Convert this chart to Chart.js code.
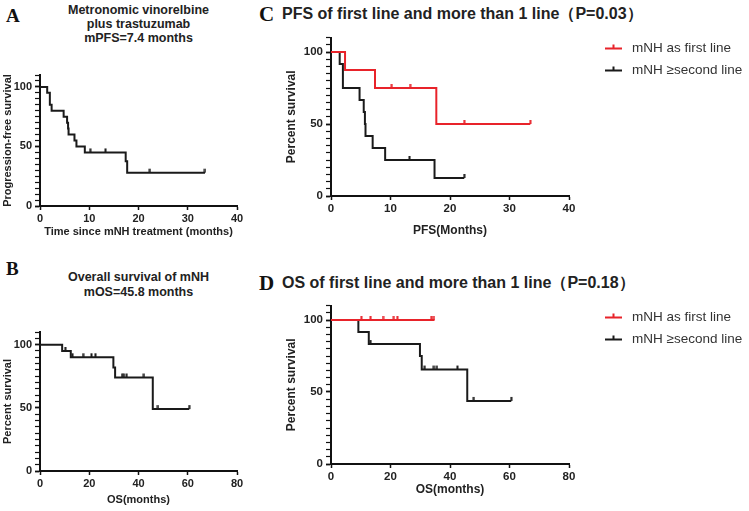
<!DOCTYPE html>
<html>
<head>
<meta charset="utf-8">
<script src="https://cdn.jsdelivr.net/npm/chart.js@4"></script>
<style>
body{margin:0;background:#fff;width:749px;height:511px;position:relative;overflow:hidden;font-family:"Liberation Sans",Arial,sans-serif;}
canvas{position:absolute;}
.letter{position:absolute;font-family:"Liberation Serif","Times New Roman",serif;font-weight:bold;color:#111;line-height:1;}
.ttl{position:absolute;font-weight:bold;color:#222;white-space:nowrap;}
</style>
</head>
<body>

<div class="letter" style="left:6px;top:6px;font-size:19px;">A</div>
<div class="ttl" style="left:40px;width:197px;top:3px;text-align:center;font-size:12.5px;line-height:14px;">Metronomic vinorelbine<br>plus trastuzumab<br>mPFS=7.4 months</div>
<canvas id="chart_a" width="247" height="186" style="left:0px;top:60px;"></canvas>

<div class="letter" style="left:6px;top:259px;font-size:19px;">B</div>
<div class="ttl" style="left:40px;width:197px;top:270px;text-align:center;font-size:12.5px;line-height:15px;">Overall survival of mNH<br>mOS=45.8 months</div>
<canvas id="chart_b" width="247" height="199" style="left:0px;top:312px;"></canvas>

<div class="letter" style="left:259px;top:4px;font-size:21px;">C</div>
<div class="ttl" style="left:282px;top:5px;font-size:16px;line-height:17px;">PFS of first line and more than 1 line（P=0.03）</div>
<canvas id="chart_c" width="469" height="228" style="left:280px;top:20px;"></canvas>

<div class="letter" style="left:259px;top:273px;font-size:21px;">D</div>
<div class="ttl" style="left:282px;top:274px;font-size:16px;line-height:17px;">OS of first line and more than 1 line（P=0.18）</div>
<canvas id="chart_d" width="469" height="221" style="left:280px;top:290px;"></canvas>

<script>
// ---- A : PFS, all patients
var pfs_all_time      = [0, 1.46, 2.0, 2.36, 4.8, 5.5, 5.7, 5.8, 7.0, 7.4, 9.1, 17.4, 17.7, 33.5];
var pfs_all_surv      = [100, 95, 85, 80, 75, 70, 65, 60, 55, 50, 45, 37.5, 28, 28];
var pfs_all_cens_time = [10.2, 13.3, 22.3, 33.5];
var pfs_all_cens_surv = [45, 45, 28, 28];

// ---- B : OS, all patients
var os_all_time       = [0, 9.0, 12.5, 29.8, 30.5, 45.8, 60.6];
var os_all_surv       = [100, 95, 90, 82, 74, 49, 49];
var os_all_cens_time  = [10.3, 13.2, 17.5, 20.9, 22.5, 33.3, 34.1, 35.2, 42.2, 47.9, 60.6];
var os_all_cens_surv  = [95, 90, 90, 90, 90, 74, 74, 74, 74, 49, 49];

// ---- C : PFS by line
var pfs_first_time      = [0, 2.36, 7.4, 17.7, 33.5];
var pfs_first_surv      = [100, 87.5, 75, 50, 50];
var pfs_first_cens_time = [10.2, 13.3, 22.4, 33.5];
var pfs_first_cens_surv = [75, 75, 50, 50];

var pfs_second_time      = [0, 1.46, 2.0, 4.8, 5.5, 5.7, 5.8, 7.0, 9.1, 17.4, 22.4];
var pfs_second_surv      = [100, 91.7, 75, 66.7, 58.3, 50, 41.7, 33.3, 25, 12.5, 12.5];
var pfs_second_cens_time = [13.2, 22.4];
var pfs_second_cens_surv = [25, 12.5];

// ---- D : OS by line
var os_first_time      = [0, 34.8];
var os_first_surv      = [100, 100];
var os_first_cens_time = [10.2, 13.3, 17.5, 21.1, 22.3, 33.7, 34.6];
var os_first_cens_surv = [100, 100, 100, 100, 100, 100, 100];

var os_second_time      = [0, 9.2, 12.7, 29.9, 30.5, 45.8, 60.6];
var os_second_surv      = [100, 91.7, 83.3, 75, 65.6, 43.8, 43.8];
var os_second_cens_time = [13.3, 31.5, 34.6, 35.6, 42.5, 48.0, 60.6];
var os_second_cens_surv = [83.3, 65.6, 65.6, 65.6, 65.6, 43.8, 43.8];

var label_first  = "mNH as first line";
var label_second = "mNH \u2265second line";

// y軸: 0-110, 5刻みの目盛り、ラベルは50刻み
var y_max        = 110;
var y_minor_step = 5;
var y_label_step = 50;

var RED   = "#e8232a";
var BLACK = "#1a1a1a";
var FONT  = "'Liberation Sans', Arial, sans-serif";

function to_points(xs, ys){
    let pts = [];
    for (let i=0;i<xs.length;i++){
        pts.push({x: xs[i], y: ys[i]});
    }
    return pts;
}

//打ち切りの印（線の上に短い縦線）
function tick_image(color){
    let c = document.createElement("canvas");
    c.width  = 3;
    c.height = 10;
    let g = c.getContext("2d");
    g.fillStyle = color;
    g.fillRect(0.5, 1, 2, 4);
    return c;
}

//右側の凡例
var side_legend = {
    id: "side_legend",
    afterDraw: function(chart, args, o){
        if (!o || !o.show) return;
        let ctx  = chart.ctx;
        let area = chart.chartArea;
        let rows = chart.data.datasets.filter(function(d){ return !d.isCensor; });
        ctx.save();
        rows.forEach(function(d, i){
            let y = Math.round(area.top + o.top + i * o.gap) + 0.5;
            let x = area.right + o.left;
            ctx.strokeStyle = d.borderColor;
            ctx.lineWidth   = 2;
            ctx.beginPath();
            ctx.moveTo(x, y);
            ctx.lineTo(x + 17, y);
            ctx.moveTo(x + 8.5, y);
            ctx.lineTo(x + 8.5, y - 4);
            ctx.stroke();
            ctx.fillStyle    = "#333";
            ctx.font         = "13.5px " + FONT;
            ctx.textBaseline = "middle";
            ctx.fillText(d.label, x + 27, y);
        });
        ctx.restore();
    }
};

function km_chart(id, series, opt){

    let datasets = [];
    series.forEach(function(s){
        datasets.push({
            label: s.label,
            data: to_points(s.time, s.surv),
            borderColor: s.color,
            borderWidth: 2,
            stepped: true,
            pointRadius: 0,
            fill: false
        });
        datasets.push({
            label: "",
            isCensor: true,
            data: to_points(s.cens_time, s.cens_surv),
            showLine: false,
            pointStyle: tick_image(s.color),
            pointRadius: 5,
            borderColor: s.color
        });
    });

    let tick_font  = {family: FONT, size: opt.fs, weight: "bold"};
    let title_font = {family: FONT, size: opt.tfs, weight: "bold"};

    return new Chart(document.getElementById(id), {
        type: "line",
        data: {datasets: datasets},
        options: {
            responsive: false,
            animation: false,
            devicePixelRatio: 1,
            layout: {padding: opt.pad},
            plugins: {
                legend: {display: false},
                tooltip: {enabled: false},
                side_legend: opt.legend
            },
            scales: {
                x: {
                    type: "linear",
                    min: 0,
                    max: opt.xmax,
                    afterBuildTicks: function(sc){
                        let t = [];
                        for (let v = 0; v <= opt.xmax; v += opt.xstep) t.push({value: v});
                        sc.ticks = t;
                    },
                    afterFit: function(sc){ sc.height = opt.xh; },
                    border: {display: true, color: "#111", width: 2},
                    grid: {display: true, drawOnChartArea: false, drawTicks: true, tickLength: 4, tickColor: "#111", tickWidth: 1.5},
                    ticks: {color: "#222", font: tick_font, padding: 2, maxRotation: 0},
                    title: {display: true, text: opt.xtitle, color: "#222", font: title_font, padding: {top: 0, bottom: opt.xtp}}
                },
                y: {
                    min: 0,
                    max: y_max,
                    afterBuildTicks: function(sc){
                        let t = [];
                        for (let v = 0; v <= y_max; v += y_minor_step) t.push({value: v});
                        sc.ticks = t;
                    },
                    afterFit: function(sc){ sc.width = opt.yw; },
                    border: {display: true, color: "#111", width: 2},
                    grid: {
                        display: true, drawOnChartArea: false, drawTicks: true, tickLength: 5,
                        tickColor: "#111",
                        tickWidth: function(c){ return (c.tick && c.tick.value % y_label_step === 0) ? 1.8 : 1.2; }
                    },
                    ticks: {
                        color: "#222", font: tick_font, padding: 3, autoSkip: false,
                        callback: function(v){ return v % y_label_step === 0 ? v : ""; }
                    },
                    title: {display: true, text: opt.ytitle, color: "#222", font: title_font, padding: {top: opt.ytp, bottom: 0}}
                }
            }
        },
        plugins: [side_legend]
    });
}

window.addEventListener("load", function(){

    km_chart("chart_a", [
        {label: "all", color: BLACK, time: pfs_all_time, surv: pfs_all_surv, cens_time: pfs_all_cens_time, cens_surv: pfs_all_cens_surv}
    ], {
        xmax: 40, xstep: 10, xh: 40, yw: 40, fs: 11, tfs: 11, xtp: 7, ytp: 1,
        pad: {top: 15, right: 10, left: 0, bottom: 0},
        xtitle: "Time since mNH treatment (months)",
        ytitle: "Progression-free survival",
        legend: {show: false}
    });

    km_chart("chart_b", [
        {label: "all", color: BLACK, time: os_all_time, surv: os_all_surv, cens_time: os_all_cens_time, cens_surv: os_all_cens_surv}
    ], {
        xmax: 80, xstep: 20, xh: 40, yw: 40, fs: 11, tfs: 11, xtp: 4, ytp: 1,
        pad: {top: 20, right: 10, left: 0, bottom: 0},
        xtitle: "OS(months)",
        ytitle: "Percent survival",
        legend: {show: false}
    });

    km_chart("chart_c", [
        {label: label_first,  color: RED,   time: pfs_first_time,  surv: pfs_first_surv,  cens_time: pfs_first_cens_time,  cens_surv: pfs_first_cens_surv},
        {label: label_second, color: BLACK, time: pfs_second_time, surv: pfs_second_surv, cens_time: pfs_second_cens_time, cens_surv: pfs_second_cens_surv}
    ], {
        xmax: 40, xstep: 10, xh: 52, yw: 51, fs: 11.5, tfs: 12, xtp: 10, ytp: 4,
        pad: {top: 17.6, right: 180, left: 0, bottom: 0},
        xtitle: "PFS(Months)",
        ytitle: "Percent survival",
        legend: {show: true, top: 10.5, gap: 22, left: 36}
    });

    km_chart("chart_d", [
        {label: label_first,  color: RED,   time: os_first_time,  surv: os_first_surv,  cens_time: os_first_cens_time,  cens_surv: os_first_cens_surv},
        {label: label_second, color: BLACK, time: os_second_time, surv: os_second_surv, cens_time: os_second_cens_time, cens_surv: os_second_cens_surv}
    ], {
        xmax: 80, xstep: 20, xh: 47, yw: 51, fs: 11.5, tfs: 12, xtp: 14, ytp: 4,
        pad: {top: 15.6, right: 180, left: 0, bottom: 0},
        xtitle: "OS(months)",
        ytitle: "Percent survival",
        legend: {show: true, top: 11.5, gap: 21.5, left: 36}
    });

});
</script>
</body>
</html>
